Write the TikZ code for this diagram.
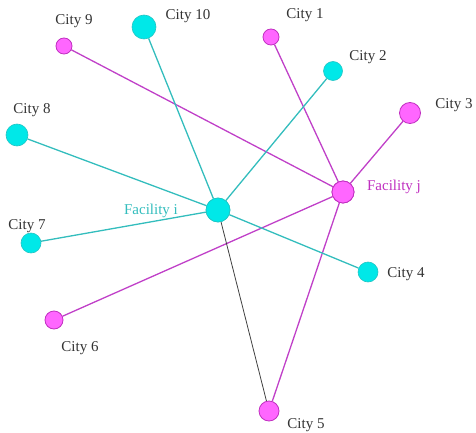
\documentclass[tikz,border=0pt]{standalone}
\usepackage{fontspec}
\setmainfont{Liberation Serif}
\definecolor{cyfill}{HTML}{00E8E8}
\definecolor{cydraw}{HTML}{22C4C4}
\definecolor{cyline}{HTML}{33BDBD}
\definecolor{mgfill}{HTML}{FF66FF}
\definecolor{mgdraw}{HTML}{C030C0}
\definecolor{mgline}{HTML}{C040C8}
\definecolor{lbl}{HTML}{333333}
\begin{document}
\begin{tikzpicture}[x=1pt,y=-1pt,
  cy/.style={circle,fill=cyfill,draw=cydraw,line width=0.6pt,inner sep=0pt,minimum size=#1},
  mg/.style={circle,fill=mgfill,draw=mgdraw,line width=0.8pt,inner sep=0pt,minimum size=#1},
  lab/.style={text=lbl,font=\fontsize{15}{17}\selectfont,inner sep=0pt},
  cyl/.style={cyline,line width=1.3pt},
  mgl/.style={mgline,line width=1.3pt},
  bkl/.style={black!75,line width=0.8pt}]
\useasboundingbox (0,0) rectangle (476,433);
% nodes
\node[cy=24pt] (fi) at (218,210) {};
\node[mg=22pt] (fj) at (343,192) {};
\node[mg=16pt] (c9) at (64,46) {};
\node[cy=24pt] (c10) at (144,27) {};
\node[mg=16pt] (c1) at (271,37) {};
\node[cy=19pt] (c2) at (333,71) {};
\node[mg=21pt] (c3) at (410,113) {};
\node[cy=22pt] (c8) at (17,135) {};
\node[cy=20pt] (c7) at (31,243) {};
\node[cy=20pt] (c4) at (368,272) {};
\node[mg=18pt] (c6) at (54,320) {};
\node[mg=20pt] (c5) at (269,411) {};
% edges
\begin{scope}[on background layer/.try]
\end{scope}
\draw[mgl] (fj) -- (c9);
\draw[mgl] (fj) -- (c1);
\draw[mgl] (fj) -- (c3);
\draw[mgl] (fj) -- (c6);
\draw[mgl] (fj) -- (c5);
\draw[cyl] (fi) -- (c10);
\draw[cyl] (fi) -- (c2);
\draw[cyl] (fi) -- (c8);
\draw[cyl] (fi) -- (c7);
\draw[cyl] (fi) -- (c4);
\draw[bkl] (fi) -- (c5);
% redraw nodes on top
\node[cy=24pt] at (fi) {};
\node[mg=22pt] at (fj) {};
% labels
\node[lab] (l9) at (74,21) {City 9};
\node[lab] (l10) at (188,16) {City 10};
\node[lab] (l1) at (305,15) {City 1};
\node[lab] (l2) at (368,57) {City 2};
\node[lab] (l3) at (454,105) {City 3};
\node[lab] (l8) at (32,110) {City 8};
\node[lab] (l7) at (27,226) {City 7};
\node[lab] (l4) at (406,274) {City 4};
\node[lab] (l6) at (80,348) {City 6};
\node[lab] (l5) at (306,425) {City 5};
\node[lab,text=cyline] (lfi) at (151,211) {Facility i};
\node[lab,text=mgdraw] (lfj) at (394,187) {Facility j};
\end{tikzpicture}
\end{document}
